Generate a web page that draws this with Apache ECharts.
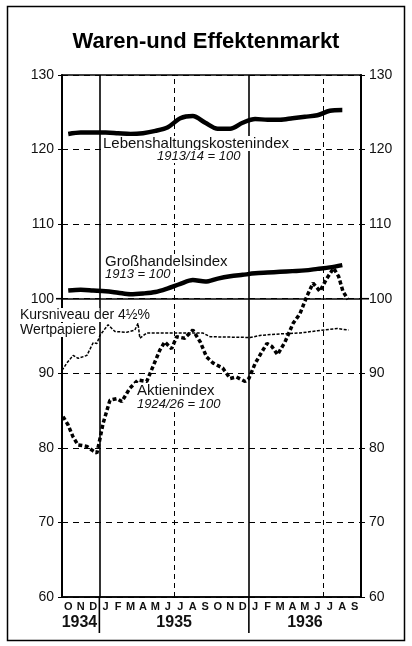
<!DOCTYPE html>
<html>
<head>
<meta charset="utf-8">
<title>Waren- und Effektenmarkt</title>
<script src="https://cdn.jsdelivr.net/npm/echarts@6.0.0/dist/echarts.min.js"></script>
<style>
  html, body { margin: 0; padding: 0; background: #fff; }
  #chart { width: 412px; height: 646px; }
</style>
</head>
<body>
<div id="chart"></div>
<script>
// Monate Okt. 1934 - Sep. 1936
const months = ['O','N','D','J','F','M','A','M','J','J','A','S','O','N','D','J','F','M','A','M','J','J','A','S'];
const years = ['1934', '1935', '1936'];
const yearCenters = [1.4, 9, 19.5];      // Monatsindex (0 = Anfang Okt. 1934)
const yearBreaks = [3, 15];              // Jahreswechsel
const midYear = [9, 21];                 // Juli

// Monatswerte (Monatsmitte)
const lebenshaltung = [122.1, 122.3, 122.3, 122.3, 122.2, 122.1, 122.2, 122.5, 123.0, 124.2, 124.5, 123.6,
  122.8, 122.8, 123.6, 124.1, 124.0, 124.0, 124.2, 124.4, 124.6, 125.2, 125.3];
const grosshandel = [101.1, 101.2, 101.1, 101.0, 100.8, 100.6, 100.7, 100.9, 101.4, 102.0, 102.5, 102.3,
  102.7, 103.0, 103.2, 103.4, 103.5, 103.6, 103.7, 103.8, 104.0, 104.2, 104.5];

// Kursniveau der 4 1/2 % Wertpapiere
const kursT = [0.0, 0.4, 0.9, 1.3, 2.0, 2.5, 2.8, 3.05, 3.7, 4.25, 5.2, 5.85, 6.1, 6.25, 6.8, 11.3, 11.9, 15.1, 16.0, 17.7, 19.1, 20.5, 21.5, 22.1, 23.0];
const kursV = [90.4, 91.4, 92.4, 92.0, 92.4, 94.1, 94.0, 95.1, 96.5, 95.6, 95.5, 95.8, 96.7, 94.7, 95.4, 95.4, 94.9, 94.8, 95.1, 95.3, 95.4, 95.7, 95.9, 96.0, 95.8];

// Aktienindex
const aktienT = [0.08, 0.48, 0.88, 1.28, 2.0, 2.4, 2.8, 2.97, 3.3, 3.85, 4.4, 4.8, 5.45, 6.1, 6.8, 7.3, 7.85, 8.25, 8.8, 9.2, 9.85, 10.5,
  11.1, 11.6, 12.1, 12.9, 13.5, 14.0, 14.7, 15.0, 15.5, 16.05, 16.45, 16.85, 17.3, 17.9, 18.55, 19.1, 19.65, 20.15, 20.7, 21.25, 21.8, 22.2, 22.55, 22.95];
const aktienV = [84.2, 83.1, 81.5, 80.4, 80.2, 79.7, 79.3, 80.6, 83.3, 86.4, 86.6, 86.2, 88.0, 89.1, 88.9, 90.9, 93.1, 94.2, 93.3, 94.9, 94.7, 95.8,
  94.2, 92.2, 91.4, 90.7, 89.3, 89.5, 88.9, 89.3, 91.3, 92.9, 94.0, 93.6, 92.5, 94.2, 96.7, 98.0, 100.3, 102.1, 101.0, 102.7, 104.1, 103.0, 101.0, 99.9];

const monthly = arr => arr.map((v, i) => [i + 0.5, v]);
const pairs = (t, v) => t.map((x, i) => [x, v[i]]);

const FONT = '"Liberation Sans", Arial, sans-serif';
const chart = echarts.init(document.getElementById('chart'));

const yAxisBase = {
  type: 'value', min: 60, max: 130, interval: 10,
  axisLine: { show: true, lineStyle: { color: '#000', width: 2 } },
  axisTick: { show: true, length: 4, lineStyle: { color: '#000' } },
  axisLabel: { color: '#111', fontSize: 14, fontFamily: FONT, margin: 8 }
};

const vLines = yearBreaks.map(x => ({ xAxis: x, lineStyle: { type: 'solid', width: 1.6, color: '#000' } }))
  .concat(midYear.map(x => ({ xAxis: x, lineStyle: { type: [5, 4], width: 1, color: '#000' } })));

chart.setOption({
  animation: false,
  backgroundColor: '#fff',
  title: {
    text: 'Waren-und Effektenmarkt', left: 'center', top: 26,
    textStyle: { fontSize: 22, fontWeight: 'bold', color: '#000', fontFamily: FONT }
  },
  grid: { left: 62, right: 51, top: 75, bottom: 49, show: true, borderColor: '#000', borderWidth: 1.5 },
  xAxis: [{
    type: 'category', data: months, boundaryGap: true,
    axisLine: { lineStyle: { color: '#000', width: 1.5 } },
    axisTick: { inside: true, length: 5, interval: 0, lineStyle: { color: '#000' } },
    axisLabel: { interval: 0, margin: 4, fontSize: 11, fontWeight: 'bold', color: '#111', fontFamily: FONT }
  }, {
    type: 'value', min: 0, max: 24, show: false
  }],
  yAxis: [
    Object.assign({}, yAxisBase, {
      position: 'left',
      splitLine: { show: true, lineStyle: { color: '#000', type: [6, 5], width: 1 } }
    }),
    Object.assign({}, yAxisBase, { position: 'right', splitLine: { show: false } })
  ],
  series: [{
    name: 'Lebenshaltungskostenindex', type: 'line', xAxisIndex: 1, yAxisIndex: 0,
    data: monthly(lebenshaltung), smooth: 0.3, symbol: 'none',
    lineStyle: { color: '#000', width: 4.5 },
    markLine: {
      silent: true, symbol: 'none', label: { show: false },
      data: vLines.concat([{ yAxis: 100, lineStyle: { type: 'solid', width: 1.6, color: '#000' } }])
    },
    z: 5
  }, {
    name: 'Großhandelsindex', type: 'line', xAxisIndex: 1, yAxisIndex: 0,
    data: monthly(grosshandel), smooth: 0.3, symbol: 'none',
    lineStyle: { color: '#000', width: 4.5 }, z: 5
  }, {
    name: 'Kursniveau der 4½% Wertpapiere', type: 'line', xAxisIndex: 1, yAxisIndex: 0,
    data: pairs(kursT, kursV), symbol: 'none',
    lineStyle: { color: '#000', width: 1.5, type: [3, 1.5] }, z: 4
  }, {
    name: 'Aktienindex', type: 'line', xAxisIndex: 1, yAxisIndex: 0,
    data: pairs(aktienT, aktienV), symbol: 'none',
    lineStyle: { color: '#000', width: 3.5, type: [4, 2.5] }, z: 4
  }]
});

// Beschriftungen, Jahreszahlen und Verlängerungen unter der Achse
const px = t => chart.convertToPixel({ xAxisIndex: 1 }, t);
const py = v => chart.convertToPixel({ yAxisIndex: 0 }, v);
const yBottom = py(60);
const y100 = py(100);
const gLeft = px(0), gRight = px(24);

const label = (text, x, y, size, italic) => ({
  type: 'text', left: x, top: y, z: 50,
  style: {
    text: text, fill: '#111', font: (italic ? 'italic ' : '') + size + 'px ' + FONT,
    backgroundColor: '#fff', padding: [0, 2]
  }
});

const graphic = [
  { type: 'rect', shape: { x: 7.5, y: 6.5, width: 397, height: 634 }, style: { fill: 'none', stroke: '#000', lineWidth: 1.5 }, z: 1 },
  { type: 'line', shape: { x1: gLeft - 6, y1: y100, x2: gLeft, y2: y100 }, style: { stroke: '#000', lineWidth: 1.6 } },
  { type: 'line', shape: { x1: gRight, y1: y100, x2: gRight + 8, y2: y100 }, style: { stroke: '#000', lineWidth: 1.6 } },
  label('Lebenshaltungskostenindex', 101, 136, 15),
  label('1913/14 = 100', 155, 150, 13, true),
  label('Großhandelsindex', 103, 254, 15),
  label('1913 = 100', 103, 268, 13, true),
  label('Kursniveau der 4½%', 18, 308, 14),
  label('Wertpapiere', 18, 323, 14),
  label('Aktienindex', 135, 383, 15),
  label('1924/26 = 100', 135, 398, 13, true)
];
yearBreaks.forEach(t => {
  graphic.push({ type: 'line', shape: { x1: px(t), y1: yBottom, x2: px(t), y2: yBottom + 36 }, style: { stroke: '#000', lineWidth: 1.6 } });
});
years.forEach((y, i) => {
  graphic.push({
    type: 'text', x: px(yearCenters[i]), y: yBottom + 26,
    style: { text: y, fill: '#111', font: 'bold 16px ' + FONT, textAlign: 'center', textVerticalAlign: 'middle' }
  });
});
chart.setOption({ graphic: graphic });
</script>
</body>
</html>
